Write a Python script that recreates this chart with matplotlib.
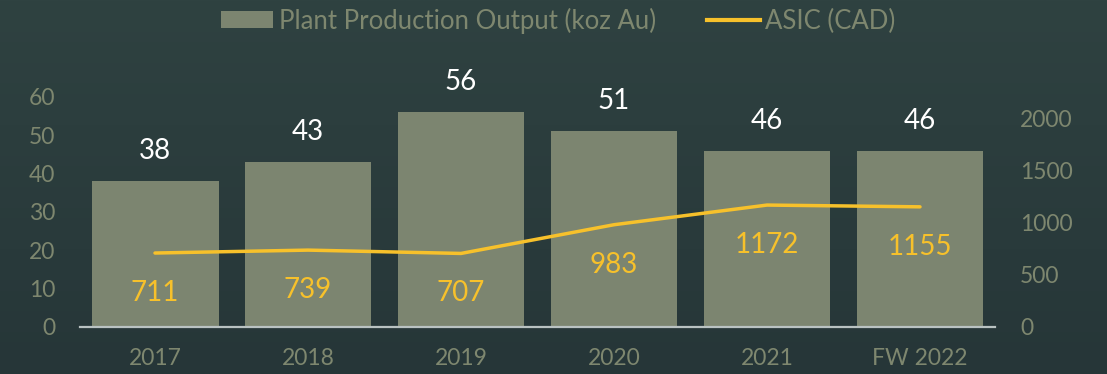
import matplotlib

matplotlib.use("Agg")

import matplotlib.pyplot as plt
from matplotlib.lines import Line2D
from matplotlib.patches import Patch
import numpy as np

years = ["2017", "2018", "2019", "2020", "2021", "FW 2022"]
production_koz = [38, 43, 56, 51, 46, 46]
asic_cad = [711, 739, 707, 983, 1172, 1155]
left_ticks = [0, 10, 20, 30, 40, 50, 60]
right_ticks = [0, 500, 1000, 1500, 2000]

BG_TOP = np.array([0x2f, 0x42, 0x41]) / 255
BG_BOTTOM = np.array([0x26, 0x36, 0x38]) / 255
BAR_COLOR = "#7c8570"
LINE_COLOR = "#f7c12b"
TICK_COLOR = "#7e876f"
BASE_COLOR = "#b9c2c2"

plt.rcParams["font.family"] = ["Lato", "DejaVu Sans"]

fig = plt.figure(figsize=(11.07, 3.74), dpi=100)

# vertical background gradient
bg = fig.add_axes([0, 0, 1, 1], zorder=-10)
t = np.linspace(0, 1, 256)[:, None, None]
grad = BG_TOP * (1 - t) + BG_BOTTOM * t
bg.imshow(np.repeat(grad, 2, axis=1), aspect="auto", extent=[0, 1, 0, 1])
bg.set_axis_off()

ax = fig.add_axes([0.0723, 0.1257, 0.8265, 0.6150])
ax.patch.set_visible(False)
x = np.arange(len(years))

ax.bar(x, production_koz, width=0.83, color=BAR_COLOR, zorder=2)
ax.set_xlim(-0.49, 5.49)
ax.set_ylim(0, 60)
ax.set_yticks(left_ticks)
ax.set_xticks(x)
ax.set_xticklabels(years)
for side in ("top", "right", "left"):
    ax.spines[side].set_visible(False)
ax.spines["bottom"].set_color(BASE_COLOR)
ax.spines["bottom"].set_linewidth(1.6)
ax.spines["bottom"].set_zorder(5)
ax.tick_params(axis="both", length=0, colors=TICK_COLOR, labelsize=16.5)
ax.tick_params(axis="x", pad=15)
ax.tick_params(axis="y", pad=18)

for xi, v in zip(x, production_koz):
    ax.annotate(f"{v}", (xi, v), xytext=(0, 30), textcoords="offset pixels",
                ha="center", va="center", color="white", fontsize=20,
                annotation_clip=False)

ax2 = ax.twinx()
ax2.set_ylim(0, 2211)
ax2.set_yticks(right_ticks)
ax2.plot(x, asic_cad, color=LINE_COLOR, linewidth=2.5, zorder=4,
         solid_capstyle="round")
for side in ("top", "right", "left", "bottom"):
    ax2.spines[side].set_visible(False)
ax2.tick_params(axis="y", length=0, colors=TICK_COLOR, labelsize=16.5, pad=18)

for xi, v in zip(x, asic_cad):
    ax2.annotate(f"{v}", (xi, v), xytext=(0, -40), textcoords="offset pixels",
                 ha="center", va="center", color=LINE_COLOR, fontsize=20)

handles = [
    Patch(facecolor=BAR_COLOR, label="Plant Production Output (koz Au)"),
    Line2D([0], [0], color=LINE_COLOR, linewidth=3, label="ASIC (CAD)"),
]
fig.legend(handles=handles, loc="center", bbox_to_anchor=(0.504, 0.945),
           ncol=2, frameon=False, fontsize=18.5, labelcolor=TICK_COLOR,
           handlelength=2.05, handleheight=0.6, handletextpad=0.2,
           columnspacing=2.0)

fig.savefig("out.png", dpi=100)
